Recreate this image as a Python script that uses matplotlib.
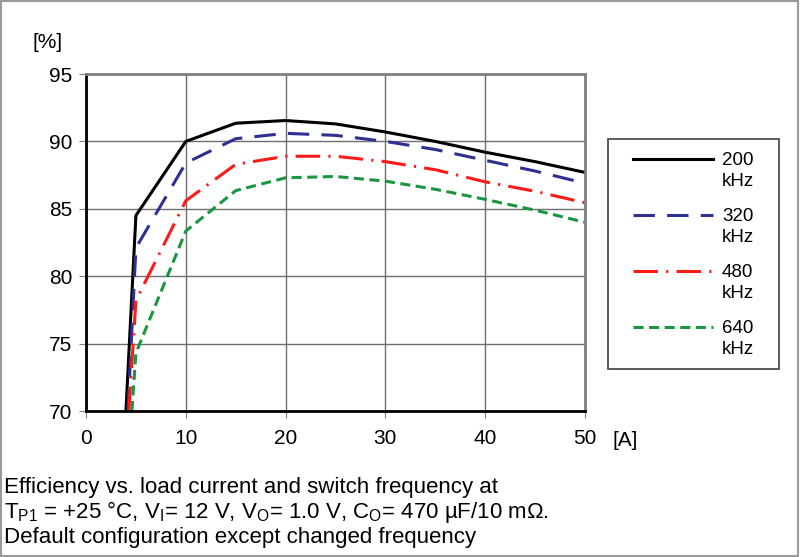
import numpy as np
import matplotlib.pyplot as plt
from matplotlib.patches import Rectangle
from matplotlib.legend_handler import HandlerLine2D

plt.rcParams['font.family'] = ['Liberation Sans', 'DejaVu Sans']
plt.rcParams['mathtext.fontset'] = 'custom'
plt.rcParams['mathtext.rm'] = 'Liberation Sans'

# load current [A]
current = [4.0, 5, 10, 15, 20, 25, 30, 35, 40, 45, 50]
# efficiency [%] per switch frequency
eff_200 = [70, 84.5, 90.0, 91.35, 91.55, 91.3, 90.7, 90.0, 89.2, 88.5, 87.7]
eff_320 = [70, 82.1, 88.4, 90.2, 90.6, 90.45, 90.0, 89.4, 88.6, 87.8, 86.9]
eff_480 = [70, 78.2, 85.6, 88.3, 88.9, 88.9, 88.5, 87.9, 87.0, 86.3, 85.45]
eff_640 = [70, 74.3, 83.35, 86.35, 87.3, 87.4, 87.05, 86.45, 85.7, 84.9, 84.0]
start_x = [4.0, 4.2, 4.3, 4.6]
labels = ['200\nkHz', '320\nkHz', '480\nkHz', '640\nkHz']


class RaisedLine(HandlerLine2D):
    # put the legend line level with the first text line ("200"), not midway
    def create_artists(self, legend, orig_handle, xdescent, ydescent,
                       width, height, fontsize, trans):
        arts = super().create_artists(legend, orig_handle, xdescent, ydescent,
                                      width, height, fontsize, trans)
        for a in arts:
            a.set_ydata(np.asarray(a.get_ydata()) + 0.65 * fontsize)
        return arts


fig = plt.figure(figsize=(8, 5.57), dpi=100)
ax = fig.add_axes([0.1075, 0.2621, 0.62375, 0.6050])

series = [eff_200, eff_320, eff_480, eff_640]
colors = ['black', '#2e3192', '#ff1a1a', '#1a9641']
dashes = [None, (7, 4), (8, 2.7, 0.7, 2.7), (3.3, 1.8)]
lines = []
for s, x0, c, d, lab in zip(series, start_x, colors, dashes, labels):
    xs = [x0] + current[1:]
    ln, = ax.plot(xs, s, color=c, lw=2.2, label=lab)
    if d is not None:
        ln.set_dashes(d)
    lines.append(ln)

ax.set_xlim(0, 50)
ax.set_ylim(70, 95)
ax.set_xticks(range(0, 51, 10))
ax.set_yticks(range(70, 96, 5))
ax.grid(True, color='#6f6f6f', lw=1.0)
ax.tick_params(labelsize=15, length=5, color='#7f7f7f', pad=5)
ax.tick_params(axis='x', pad=8)
for side in ['left', 'bottom']:
    ax.spines[side].set_color('black')
    ax.spines[side].set_linewidth(2)
for side in ['top', 'right']:
    ax.spines[side].set_color('#7f7f7f')
    ax.spines[side].set_linewidth(2)

fig.text(48 / 800, 1 - 42 / 557, '[%]', fontsize=15, ha='center', va='center')
fig.text(625 / 800, 1 - 441 / 557, '[A]', fontsize=15, ha='center', va='center')

# legend box drawn separately so the entries can sit inset like the original
fig.patches.append(Rectangle((608 / 800, 1 - 369 / 557), 171 / 800, 230 / 557,
                             transform=fig.transFigure, fill=False,
                             edgecolor='#404040', lw=1.2))
leg = ax.legend(loc='upper left', bbox_to_anchor=(633 / 800, 1 - 152 / 557),
                bbox_transform=fig.transFigure, fontsize=13.5, handlelength=4.25,
                handletextpad=0.5, labelspacing=0.95,
                borderpad=0, borderaxespad=0, frameon=False,
                handler_map={ln: RaisedLine() for ln in lines})
for t in leg.get_texts():
    t.set_linespacing(1.32)

cap = [
    'Efficiency vs. load current and switch frequency at',
    r'T$\mathregular{_{P1}}$ = +25 °C, V$\mathregular{_I}$= 12 V, '
    r'V$\mathregular{_O}$= 1.0 V, C$\mathregular{_O}$= 470 µF/10 mΩ.',
    'Default configuration except changed frequency',
]
for i, line in enumerate(cap):
    fig.text(4 / 800, 1 - (493 + 25 * i) / 557, line, fontsize=16,
             ha='left', va='baseline')

fig.patches.append(Rectangle((0.001, 0.002), 0.997, 0.996, transform=fig.transFigure,
                             fill=False, edgecolor='#9a9a9a', lw=1.5))

fig.savefig('out.png', dpi=100)
